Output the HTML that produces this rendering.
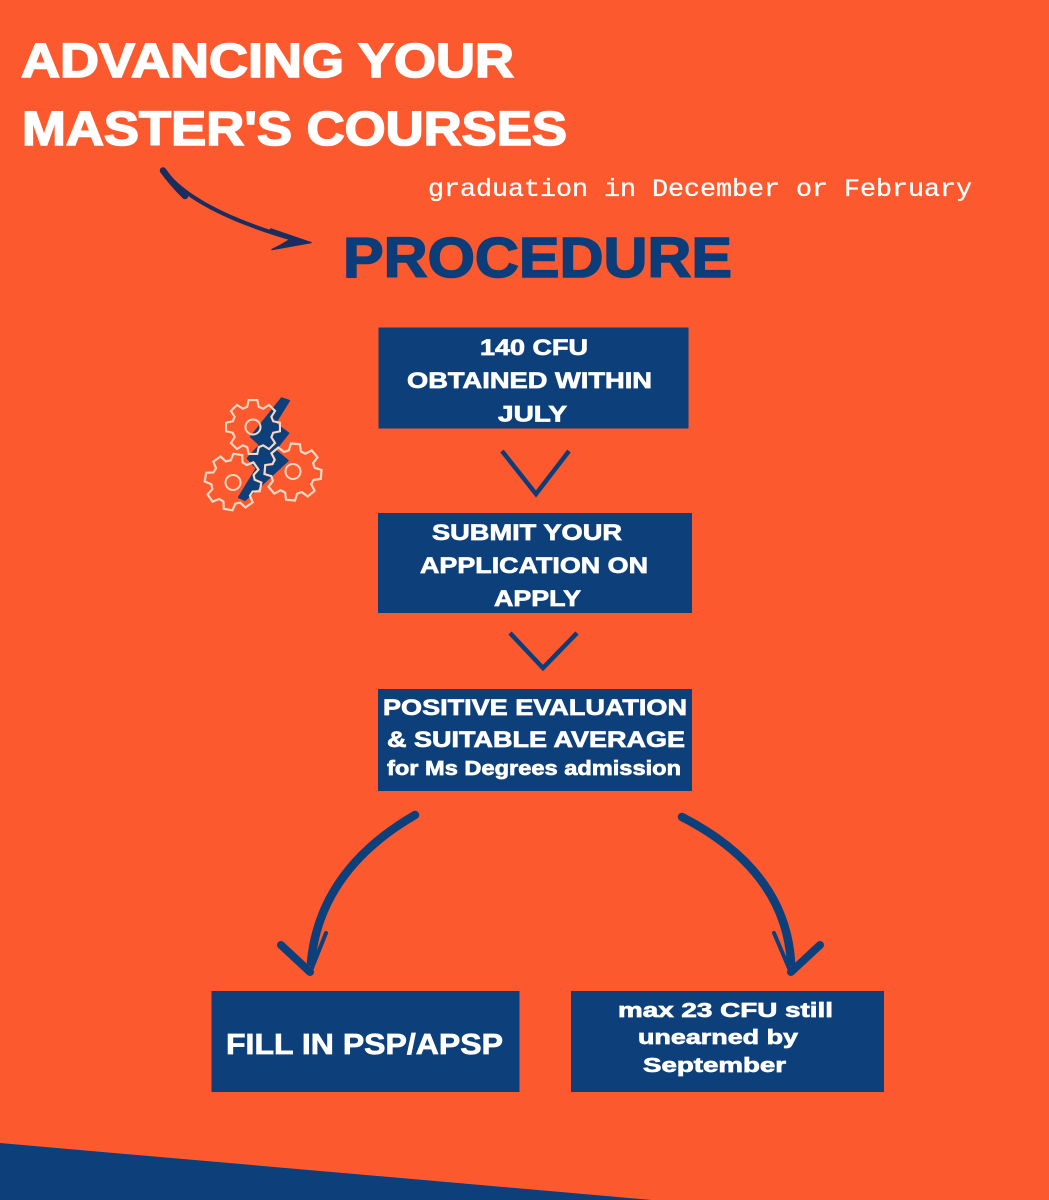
<!DOCTYPE html>
<html>
<head>
<meta charset="utf-8">
<style>
  html,body{margin:0;padding:0;background:#fc5a2e;}
  svg{display:block;}
  .w{fill:#ffffff;stroke:#ffffff;stroke-width:0.7;font-family:"Liberation Sans",Arial,sans-serif;font-weight:bold;}
  .t{fill:#ffffff;stroke:#ffffff;stroke-width:1.6;font-family:"Liberation Sans",Arial,sans-serif;font-weight:bold;}
</style>
</head>
<body>
<svg width="1049" height="1200" viewBox="0 0 1049 1200" xmlns="http://www.w3.org/2000/svg">
  <defs>
    <polygon id="gear" points="19.23,-5.51 25.68,-4.07 25.68,4.07 19.23,5.51 17.49,9.70 21.03,15.28 15.28,21.03 9.70,17.49 5.51,19.23 4.07,25.68 -4.07,25.68 -5.51,19.23 -9.70,17.49 -15.28,21.03 -21.03,15.28 -17.49,9.70 -19.23,5.51 -25.68,4.07 -25.68,-4.07 -19.23,-5.51 -17.49,-9.70 -21.03,-15.28 -15.28,-21.03 -9.70,-17.49 -5.51,-19.23 -4.07,-25.68 4.07,-25.68 5.51,-19.23 9.70,-17.49 15.28,-21.03 21.03,-15.28 17.49,-9.70" fill="none" stroke="#f7d8c2" stroke-width="2" stroke-linejoin="miter"/>
  </defs>

  <rect x="0" y="0" width="1049" height="1200" fill="#fc5a2e"/>

  <!-- bottom navy wedge -->
  <polygon points="0,1143 652,1200 0,1200" fill="#0d3f7b"/>

  <!-- Title -->
  <text class="t" x="21" y="77" font-size="48" textLength="493" lengthAdjust="spacingAndGlyphs">ADVANCING YOUR</text>
  <text class="t" x="22" y="145" font-size="48" textLength="545" lengthAdjust="spacingAndGlyphs">MASTER'S COURSES</text>

  <!-- subtitle -->
  <text x="428" y="196" font-family="'Liberation Mono','Courier New',monospace" font-size="25" fill="#ffffff" stroke="#ffffff" stroke-width="0.3" textLength="544" lengthAdjust="spacingAndGlyphs">graduation in December or February</text>

  <!-- title arrow -->
  <path d="M164,171 C185,198 230,222 304,242" fill="none" stroke="#1b2c5e" stroke-width="4" stroke-linecap="round"/>
  <path d="M163,170.5 C169,179 176,187 185,196" fill="none" stroke="#1b2c5e" stroke-width="6.5" stroke-linecap="round"/>
  <path d="M271,229.5 L309,242.5" fill="none" stroke="#1b2c5e" stroke-width="2.5" stroke-linecap="round"/>
  <polygon points="272,249.5 311,242.5 290,239.5 281,245" fill="#1b2c5e" stroke="#1b2c5e" stroke-width="1.5" stroke-linejoin="round"/>

  <!-- PROCEDURE -->
  <text x="343" y="277" font-family="'Liberation Sans',Arial,sans-serif" font-weight="bold" font-size="57" fill="#0d3d78" stroke="#0d3d78" stroke-width="1.6" textLength="389" lengthAdjust="spacingAndGlyphs">PROCEDURE</text>

  <!-- gears + bolt icon -->
  <polygon points="281.7,398.3 289,400.7 275,423.3 288.3,433.3 275,450 287.7,460.7 245,500 239,497.3 256.7,468.3 247.7,458.3 260,445 251,436.7" fill="#0d3f7b" stroke="#0d3f7b" stroke-width="2" stroke-linejoin="round"/>
  <use href="#gear" transform="translate(253,427) scale(1.05)"/>
  <circle cx="253" cy="427" r="7.5" fill="none" stroke="#f7d8c2" stroke-width="2"/>
  <use href="#gear" transform="translate(233,482) scale(1.09) rotate(10)"/>
  <circle cx="233" cy="482.5" r="7.5" fill="none" stroke="#f7d8c2" stroke-width="2"/>
  <use href="#gear" transform="translate(293,472) scale(1.1) rotate(5)"/>
  <circle cx="293" cy="471.5" r="7.5" fill="none" stroke="#f7d8c2" stroke-width="2"/>

  <!-- Box 1 -->
  <rect x="378.5" y="327.5" width="310" height="101" fill="#0d3f7b"/>
  <text class="w" x="480" y="355" font-size="22" textLength="108" lengthAdjust="spacingAndGlyphs">140 CFU</text>
  <text class="w" x="407" y="388" font-size="22" textLength="245" lengthAdjust="spacingAndGlyphs">OBTAINED WITHIN</text>
  <text class="w" x="498" y="421.5" font-size="22" textLength="69" lengthAdjust="spacingAndGlyphs">JULY</text>

  <!-- chevron 1 -->
  <polyline points="502,451 536,494 569,451" fill="none" stroke="#0d3d78" stroke-width="4.5"/>

  <!-- Box 2 -->
  <rect x="378" y="513" width="314" height="100" fill="#0d3f7b"/>
  <text class="w" x="432" y="540" font-size="22" textLength="190" lengthAdjust="spacingAndGlyphs">SUBMIT YOUR</text>
  <text class="w" x="420" y="573" font-size="22" textLength="228" lengthAdjust="spacingAndGlyphs">APPLICATION ON</text>
  <text class="w" x="494" y="606" font-size="22" textLength="87" lengthAdjust="spacingAndGlyphs">APPLY</text>

  <!-- chevron 2 -->
  <polyline points="510,633 543,668 577,633" fill="none" stroke="#0d3d78" stroke-width="4.5"/>

  <!-- Box 3 -->
  <rect x="378" y="689" width="314" height="102" fill="#0d3f7b"/>
  <text class="w" x="383" y="715" font-size="22" textLength="304" lengthAdjust="spacingAndGlyphs">POSITIVE EVALUATION</text>
  <text class="w" x="387" y="747" font-size="22" textLength="298" lengthAdjust="spacingAndGlyphs">&amp; SUITABLE AVERAGE</text>
  <text class="w" x="387" y="775" font-size="20" textLength="294" lengthAdjust="spacingAndGlyphs">for Ms Degrees admission</text>

  <!-- curved arrows -->
  <path d="M415,815 Q320,870 311,962" fill="none" stroke="#0d3f7b" stroke-width="8.5" stroke-linecap="round"/>
  <path d="M281,945 L310,972" fill="none" stroke="#0d3f7b" stroke-width="8" stroke-linecap="round"/>
  <path d="M326,933 L310,973" fill="none" stroke="#0d3f7b" stroke-width="4" stroke-linecap="round"/>

  <path d="M682,817 Q785,870 791,962" fill="none" stroke="#0d3f7b" stroke-width="8.5" stroke-linecap="round"/>
  <path d="M820,945 L791,972" fill="none" stroke="#0d3f7b" stroke-width="8" stroke-linecap="round"/>
  <path d="M774,933 L791,973" fill="none" stroke="#0d3f7b" stroke-width="4" stroke-linecap="round"/>

  <!-- bottom boxes -->
  <rect x="211.5" y="991" width="308" height="101" fill="#0d3f7b"/>
  <text class="w" x="226" y="1054" font-size="29" textLength="277" lengthAdjust="spacingAndGlyphs">FILL IN PSP/APSP</text>

  <rect x="571" y="991" width="313" height="101" fill="#0d3f7b"/>
  <text class="w" x="618" y="1017" font-size="20" textLength="215" lengthAdjust="spacingAndGlyphs">max 23 CFU still</text>
  <text class="w" x="638" y="1044" font-size="20" textLength="160" lengthAdjust="spacingAndGlyphs">unearned by</text>
  <text class="w" x="643" y="1072" font-size="20" textLength="143" lengthAdjust="spacingAndGlyphs">September</text>
</svg>
</body>
</html>
